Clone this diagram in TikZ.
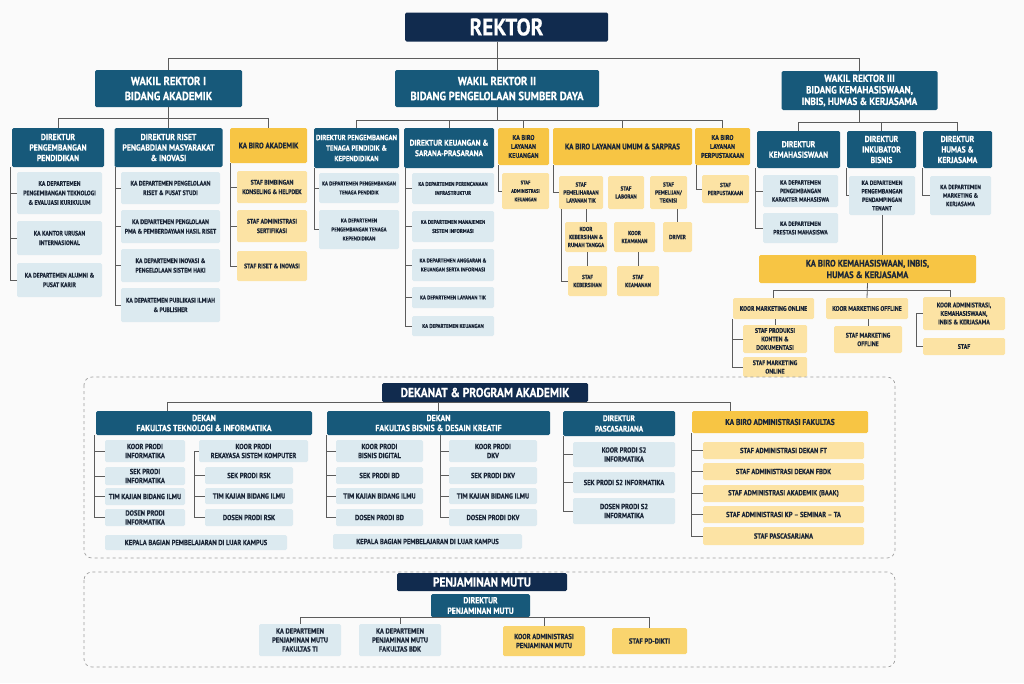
\documentclass[tikz,border=0pt]{standalone}
\usepackage{fontspec}
\setmainfont{PT Sans}[FakeStretch=0.88,BoldFeatures={FakeBold=0.5}]
\usepackage{xcolor}
\definecolor{navyc}{HTML}{112B4E}
\definecolor{dteal}{HTML}{17597A}
\definecolor{lblue}{HTML}{DCEAF0}
\definecolor{gold}{HTML}{F7C544}
\definecolor{cream}{HTML}{FCE3A4}
\definecolor{myel}{HTML}{F9D46E}
\definecolor{ink}{HTML}{1C2738}
\definecolor{linec}{HTML}{5C5C5C}
\definecolor{bgc}{HTML}{FAFAFA}

\begin{document}
\begin{tikzpicture}[x=1pt,y=-1pt,
  box/.style={rectangle,rounded corners=1.5pt,inner sep=0pt,align=center},
  sz/.style 2 args={minimum width=#1,minimum height=#2},
  nv/.style={box,fill=navyc,text=white},
  tl/.style={box,fill=dteal,text=white},
  lb/.style={box,fill=lblue,text=ink},
  gd/.style={box,fill=gold,text=ink},
  cr/.style={box,fill=cream,text=ink},
  my/.style={box,fill=myel,text=ink},
  ln/.style={draw=linec,line width=0.8pt},
  frm/.style={draw=gray!75,dashed,line width=0.7pt,rounded corners=8pt},
  fs/.style={font=\fontsize{#1}{8.5}\selectfont\bfseries},
  fxl/.style={font=\fontsize{24}{26}\selectfont\bfseries},
  fhd/.style={font=\fontsize{13}{14}\selectfont\bfseries},
  fwr/.style={font=\fontsize{12}{15}\selectfont\bfseries},
  fwrs/.style={font=\fontsize{10.4}{11.5}\selectfont\bfseries},
  fdir/.style={font=\fontsize{#1}{10.5}\selectfont\bfseries},
  fbr/.style={font=\fontsize{#1}{9}\selectfont\bfseries},
  fdk/.style={font=\fontsize{9}{10}\selectfont\bfseries},
  fsm/.style={font=\fontsize{6.5}{9.5}\selectfont\bfseries},
  fsb/.style={font=\fontsize{5.6}{9}\selectfont\bfseries},
  fxs/.style={font=\fontsize{5.8}{8}\selectfont\bfseries},
  fki/.style={font=\fontsize{6.6}{8.5}\selectfont\bfseries},
  fdd/.style={font=\fontsize{7.4}{9}\selectfont\bfseries}]

\fill[bgc] (0,0) rectangle (1024,683);
\useasboundingbox (0,0) rectangle (1024,683);

%%%%%%%%%%%%    rektor and wakil rektor   %%%%%%%%%%%%
\node[nv,sz={203}{29},fxl] (rek) at (506.5,27) {REKTOR};
\node[tl,sz={147}{37},fwr] (wr1) at (168.5,88.5) {WAKIL REKTOR I\\BIDANG AKADEMIK};
\node[tl,sz={204}{37},fwr] (wr2) at (497,88.5) {WAKIL REKTOR II\\BIDANG PENGELOLAAN SUMBER DAYA};
\node[tl,sz={156}{39},fwrs] (wr3) at (859.5,90.5) {WAKIL REKTOR III\\BIDANG KEMAHASISWAAN,\\INBIS, HUMAS \& KERJASAMA};

\draw[ln] (wr1.north) |- ([yshift=-16.5pt]rek.south) -| (wr3.north);
\draw[ln] (wr2.north) -- (wr2.north |- rek.south);

%%%%%%%%%%%%    bidang akademik   %%%%%%%%%%%%
\node[tl,sz={92}{39},fdir=8.8] (dirPP) at (58,147.5) {DIREKTUR\\PENGEMBANGAN\\PENDIDIKAN};
\node[tl,sz={108}{39},fdir=8.8] (dirRP) at (168.5,147.5) {DIREKTUR RISET\\PENGABDIAN MASYARAKAT\\\& INOVASI};
\node[gd,sz={77}{35},fbr=8] (kbAk) at (268.5,145.5) {KA BIRO AKADEMIK};

\draw[ln] (dirPP.north) |- ([yshift=-11pt]wr1.south) -| (kbAk.north);
\draw[ln] (wr1.south) -- (dirRP.north);

%left
\node[lb,sz={85}{42},fsm] (ppA) at (59.5,193) {KA DEPARTEMEN\\PENGEMBANGAN TEKNOLOGI\\\& EVALUASI KURIKULUM};
\node[lb,sz={85}{34},fsm] (ppB) at (59.5,238) {KA KANTOR URUSAN\\INTERNASIONAL};
\node[lb,sz={85}{34},fsm] (ppC) at (59.5,280) {KA DEPARTEMEN ALUMNI \&\\PUSAT KARIR};
\draw[ln] ([xshift=-1pt]dirPP.south west) |- (ppA.west) ([xshift=-1pt]dirPP.south west) |- (ppB.west) ([xshift=-1pt]dirPP.south west) |- (ppC.west);

%center
\node[lb,sz={99}{32},fsm] (rpA) at (170.5,188) {KA DEPARTEMEN PENGELOLAAN\\RISET \& PUSAT STUDI};
\node[lb,sz={99}{33},fsm] (rpB) at (170.5,226.5) {KA DEPARTEMEN PENGLOLAAN\\PMA \& PEMBERDAYAAN HASIL RISET};
\node[lb,sz={99}{33},fsm] (rpC) at (170.5,265.5) {KA DEPARTEMEN INOVASI \&\\PENGELOLAAN SISTEM HAKI};
\node[lb,sz={99}{34},fsm] (rpD) at (170.5,305) {KA DEPARTEMEN PUBLIKASI ILMIAH\\\& PUBLISHER};
\draw[ln] ([xshift=1pt]dirRP.south west) |- (rpA.west) ([xshift=1pt]dirRP.south west) |- (rpB.west) ([xshift=1pt]dirRP.south west) |- (rpC.west) ([xshift=1pt]dirRP.south west) |- (rpD.west);

%right
\node[cr,sz={70}{32},fsm] (akA) at (272,187) {STAF BIMBINGAN\\KONSELING \& HELPDEK};
\node[cr,sz={70}{32},fsm] (akB) at (272,226) {STAF ADMINISTRASI\\SERTIFIKASI};
\node[cr,sz={70}{30},fsm] (akC) at (272,266) {STAF RISET \& INOVASI};
\draw[ln] ([xshift=1pt]kbAk.south west) |- (akA.west) ([xshift=1pt]kbAk.south west) |- (akB.west) ([xshift=1pt]kbAk.south west) |- (akC.west);

%%%%%%%%%%%%    sumber daya   %%%%%%%%%%%%
\node[tl,sz={85}{40},fdir=7.6] (dirTK) at (356.5,148) {DIREKTUR PENGEMBANGAN\\TENAGA PENDIDIK \&\\KEPENDIDIKAN};
\node[tl,sz={90}{40},fdir=8.4] (dirKS) at (449,148) {DIREKTUR KEUANGAN \&\\SARANA-PRASARANA};
\node[gd,sz={51}{37},fbr=7] (kbLK) at (523.5,146.5) {KA BIRO\\LAYANAN\\KEUANGAN};
\node[gd,sz={139}{37},fbr=8] (kbLU) at (622.5,146.5) {KA BIRO LAYANAN UMUM \& SARPRAS};
\node[gd,sz={55}{37},fbr=7] (kbLP) at (722.5,146.5) {KA BIRO\\LAYANAN\\PERPUSTAKAAN};

\draw[ln] (dirTK.north) |- ([yshift=-13pt]wr2.south) -| (kbLP.north);
\draw[ln] (wr2.south) -- ++(0,13) (dirKS.north) -- ++(0,-8) (kbLK.north) -- ++(0,-8) (kbLU.north) -- ++(0,-8);

\node[lb,sz={80}{30},fsb] (tkA) at (359,188) {KA DEPARTEMEN PENGEMBANGAN\\TENAGA PENDIDIK};
\node[lb,sz={80}{39},fsb] (tkB) at (359,229.5) {KA DEPARTEMEN\\PENGEMBANGAN TENAGA\\KEPENDIDIKAN};
\draw[ln] ([xshift=1pt]dirTK.south west) |- (tkA.west) ([xshift=1pt]dirTK.south west) |- (tkB.west);

\node[lb,sz={82}{31},fsb] (ksA) at (453,188.5) {KA DEPARTEMEN PERENCANAAN\\INFRASTRUKTUR};
\node[lb,sz={82}{31},fsb] (ksB) at (453,226.5) {KA DEPARTEMEN MANAJEMEN\\SISTEM INFORMASI};
\node[lb,sz={82}{32},fsb] (ksC) at (453,265) {KA DEPARTEMEN ANGGARAN \&\\KEUANGAN SERTA INFORMASI};
\node[lb,sz={82}{21},fsb] (ksD) at (453,297.5) {KA DEPARTEMEN LAYANAN TIK};
\node[lb,sz={82}{20},fsb] (ksE) at (453,326) {KA DEPARTEMEN KEUANGAN};
\draw[ln] ([xshift=2pt]dirKS.south west) |- (ksA.west) ([xshift=2pt]dirKS.south west) |- (ksB.west) ([xshift=2pt]dirKS.south west) |- (ksC.west) ([xshift=2pt]dirKS.south west) |- (ksD.west) ([xshift=2pt]dirKS.south west) |- (ksE.west);

\node[cr,sz={47}{36},fs=5.1] (lkA) at (525.5,191) {STAF\\ADMINISTRASI\\KEUANGAN};
\draw[ln] ([xshift=1pt]kbLK.south west) |- (lkA.west);

% layanan umum
\node[cr,sz={44}{33},fxs] (luA) at (581,192.5) {STAF\\PEMELIHARAAN\\LAYANAN TIK};
\node[cr,sz={36}{33},fxs] (luB) at (626,192.5) {STAF\\LABORAN};
\node[cr,sz={37}{33},fxs] (luC) at (668.5,192.5) {STAF\\PEMELIJAN/\\TEKNISI};
\node[cr,sz={42}{30},fxs] (luD) at (586,237) {KOOR\\KEBERSIHAN \&\\RUMAH TANGGA};
\node[cr,sz={41}{30},fxs] (luE) at (634.5,237) {KOOR\\KEAMANAN};
\node[cr,sz={29}{30},fxs] (luF) at (677.5,237) {DRIVER};
\node[cr,sz={39}{30},fxs] (luG) at (587.5,281) {STAF\\KEBERSIHAN};
\node[cr,sz={42}{30},fxs] (luH) at (638,281) {STAF\\KEAMANAN};
\draw[ln] ([xshift=1pt]kbLU.south west) |- (luA.west);
\draw[ln] (luD.north) -- (luD.north |- luA.south);
\draw[ln] (luG.north) -- (luG.north |- luD.south);
\draw[ln] (luH.north) -- (luH.north |- luE.south);
\draw[ln] (luF.north) -- (luF.north |- luC.south);
\draw[ln] ([xshift=3pt]luA.south west) |- (luG.west);

\node[cr,sz={47}{28},fxs] (lpA) at (725.5,189) {STAF\\PERPUSTAKAAN};
\draw[ln] ([xshift=2pt]kbLP.south west) |- (lpA.west);

%%%%%%%%%%%%    kemahasiswaan   %%%%%%%%%%%%
\node[tl,sz={83}{37},fdir=8.6] (dirKM) at (798.5,149.5) {DIREKTUR\\KEMAHASISWAAN};
\node[tl,sz={69}{37},fdir=8.6] (dirIB) at (881.5,149.5) {DIREKTUR\\INKUBATOR\\BISNIS};
\node[tl,sz={69}{37},fdir=8.6] (dirHK) at (957.5,149.5) {DIREKTUR\\HUMAS \&\\KERJASAMA};

\draw[ln] (dirKM.north) |- ([yshift=-12pt]wr3.south) -| (dirHK.north);
\draw[ln] (wr3.south) -- ++(0,12) (dirIB.north) -- ++(0,-9);

\node[lb,sz={75}{32},fs=6.3] (kmA) at (800.5,191) {KA DEPARTEMEN\\PENGEMBANGAN\\KARAKTER MAHASISWA};
\node[lb,sz={75}{30},fs=6.3] (kmB) at (800.5,228) {KA DEPARTEMEN\\PRESTASI MAHASISWA};
\draw[ln] ([xshift=-1pt]dirKM.south west) |- (kmA.west) ([xshift=-1pt]dirKM.south west) |- (kmB.west);

\node[lb,sz={66}{39},fs=6.3] (ibA) at (882,195.5) {KA DEPARTEMEN\\PENGEMBANGAN\\PENDAMPINGAN\\TENANT};
\draw[ln] (dirIB.south west) |- (ibA.west);
\node[lb,sz={61}{39},fs=6.3] (hkA) at (960.5,195.5) {KA DEPARTEMEN\\MARKETING \&\\KERJASAMA};
\draw[ln] (dirHK.south west) |- (hkA.west);

\node[gd,sz={217}{28},font=\fontsize{9.5}{11.5}\selectfont\bfseries] (kbKI) at (867.5,269) {KA BIRO KEMAHASISWAAN, INBIS,\\HUMAS \& KERJASAMA};
\draw[ln] (ibA.south) -- (ibA.south |- kbKI.north);

\node[cr,sz={81}{21},fki] (kiA) at (773.5,308.5) {KOOR MARKETING ONLINE};
\node[cr,sz={82}{21},fki] (kiB) at (867,308.5) {KOOR MARKETING OFFLINE};
\node[cr,sz={82}{33},fki] (kiC) at (964,313.5) {KOOR ADMINISTRASI,\\KEMAHASISWAAN,\\INBIS \& KERJASAMA};
\draw[ln] (kiA.north) |- ([yshift=-7pt]kbKI.south) -| ([xshift=-14pt]kiC.north);
\draw[ln] (kbKI.south) -- (kiB.north);

\node[cr,sz={64}{28},fki] (kiD) at (775,339) {STAF PRODUKSI\\KONTEN \&\\DOKUMENTASI};
\node[cr,sz={64}{20},fki] (kiE) at (775,367) {STAF MARKETING\\ONLINE};
\node[cr,sz={68}{27},fki] (kiF) at (868,339.5) {STAF MARKETING\\OFFLINE};
\node[cr,sz={82}{17},fki] (kiG) at (964,346.5) {STAF};
\draw[ln] (kiA.south west) |- (kiD.west) (kiA.south west) |- (kiE.west);
\draw[ln] (kiD.north) -- (kiD.north |- kiA.south);
\draw[ln] (kiF.north) -- (kiF.north |- kiB.south);
\draw[ln] (kiC.west) -- ++(-6,0) |- (kiG.west);

%%%%%%%%%%%%    dekanat   %%%%%%%%%%%%
\draw[frm] (84,377) rectangle (895,558);
\node[nv,sz={206}{19},fhd] (dek) at (485,392.5) {DEKANAT \& PROGRAM AKADEMIK};

\node[tl,sz={216}{24},fdk] (fti) at (204,423) {DEKAN\\FAKULTAS TEKNOLOGI \& INFORMATIKA};
\node[tl,sz={223}{24},fdk] (fbd) at (438.5,423) {DEKAN\\FAKULTAS BISNIS \& DESAIN KREATIF};
\node[tl,sz={112}{25},fdir=8.2] (psc) at (619,423.5) {DIREKTUR\\PASCASARJANA};
\node[gd,sz={176}{22},fbr=8.4] (kbAF) at (780,422) {KA BIRO ADMINISTRASI FAKULTAS};

\draw[ln] ([xshift=-37pt]fti.north) |- (dek.south) -| ([xshift=-50pt]kbAF.north);
\draw[ln] (fbd.north) -- (fbd.north |- dek.south);

% teknologi
\node[lb,sz={80}{22},fdd] (tiA) at (145,451) {KOOR PRODI\\INFORMATIKA};
\node[lb,sz={80}{18},fdd] (tiB) at (145,476) {SEK PRODI\\INFORMATIKA};
\node[lb,sz={80}{17},fdd] (tiC) at (145,496.5) {TIM KAJIAN BIDANG ILMU};
\node[lb,sz={80}{17},fdd] (tiD) at (145,517.5) {DOSEN PRODI\\INFORMATIKA};
\draw[ln] ([xshift=-1pt]fti.south west) |- (tiA.west) ([xshift=-1pt]fti.south west) |- (tiB.west) ([xshift=-1pt]fti.south west) |- (tiC.west) ([xshift=-1pt]fti.south west) |- (tiD.west);

\node[lb,sz={109}{22},fdd] (rsA) at (253.5,451) {KOOR PRODI\\REKAYASA SISTEM KOMPUTER};
\node[lb,sz={88}{17},fdd] (rsB) at (249,475.5) {SEK PRODI RSK};
\node[lb,sz={88}{16},fdd] (rsC) at (249,496) {TIM KAJIAN BIDANG ILMU};
\node[lb,sz={88}{17},fdd] (rsD) at (249,517.5) {DOSEN PRODI RSK};
\draw[ln] (rsA.west) -- ++(-4,0) |- (rsB.west) (rsA.west) ++(-4,0) |- (rsC.west) (rsA.west) ++(-4,0) |- (rsD.west);

\node[lb,sz={182}{15},fdd] (lkTI) at (196,542.5) {KEPALA BAGIAN PEMBELAJARAN DI LUAR KAMPUS};

% bisnis
\node[lb,sz={87}{22},fdd] (bdA) at (379.5,451) {KOOR PRODI\\BISNIS DIGITAL};
\node[lb,sz={87}{17},fdd] (bdB) at (379.5,475.5) {SEK PRODI BD};
\node[lb,sz={87}{16},fdd] (bdC) at (379.5,496) {TIM KAJIAN BIDANG ILMU};
\node[lb,sz={87}{17},fdd] (bdD) at (379.5,517.5) {DOSEN PRODI BD};
\draw[ln] (fbd.south west) |- (bdA.west) (fbd.south west) |- (bdB.west) (fbd.south west) |- (bdC.west) (fbd.south west) |- (bdD.west);

\node[lb,sz={88}{22},fdd] (dvA) at (493,451) {KOOR PRODI\\DKV};
\node[lb,sz={88}{17},fdd] (dvB) at (493,475.5) {SEK PRODI DKV};
\node[lb,sz={88}{16},fdd] (dvC) at (493,496) {TIM KAJIAN BIDANG ILMU};
\node[lb,sz={88}{17},fdd] (dvD) at (493,517.5) {DOSEN PRODI DKV};
\draw[ln] ([xshift=2pt]fbd.south) |- (dvA.west) ([xshift=2pt]fbd.south) |- (dvB.west) ([xshift=2pt]fbd.south) |- (dvC.west) ([xshift=2pt]fbd.south) |- (dvD.west);

\node[lb,sz={189}{15},fdd] (lkBD) at (427.5,541.5) {KEPALA BAGIAN PEMBELAJARAN DI LUAR KAMPUS};

% pascasarjana
\node[lb,sz={102}{25},fdd] (psA) at (624,454.5) {KOOR PRODI S2\\INFORMATIKA};
\node[lb,sz={102}{21},fdd] (psB) at (624,482.5) {SEK PRODI S2 INFORMATIKA};
\node[lb,sz={102}{26},fdd] (psC) at (624,511) {DOSEN PRODI S2\\INFORMATIKA};
\draw[ln] ([xshift=1pt]psc.south west) |- (psA.west) ([xshift=1pt]psc.south west) |- (psB.west) ([xshift=1pt]psc.south west) |- (psC.west);

% biro administrasi fakultas
\node[cr,sz={161}{17},fdd] (afA) at (783.5,450.5) {STAF ADMINISTRASI DEKAN FT};
\node[cr,sz={161}{17},fdd] (afB) at (783.5,471.5) {STAF ADMINISTRASI DEKAN FBDK};
\node[cr,sz={161}{17},fdd] (afC) at (783.5,493.5) {STAF ADMINISTRASI AKADEMIK (BAAK)};
\node[cr,sz={161}{17},fdd] (afD) at (783.5,514.5) {STAF ADMINISTRASI KP – SEMINAR – TA};
\node[cr,sz={161}{18},fdd] (afE) at (783.5,536) {STAF PASCASARJANA};
\draw[ln] (kbAF.south west) |- (afA.west) (kbAF.south west) |- (afB.west) (kbAF.south west) |- (afC.west) (kbAF.south west) |- (afD.west) (kbAF.south west) |- (afE.west);

%%%%%%%%%%%%    penjaminan mutu   %%%%%%%%%%%%
\draw[frm] (84,572) rectangle (895,667);
\node[nv,sz={170}{18},fhd] (pm) at (482,582) {PENJAMINAN MUTU};
\node[tl,sz={99}{23},fdir=8.8] (dpm) at (480.5,605.5) {DIREKTUR\\PENJAMINAN MUTU};

\node[lb,sz={82}{32},fdd] (pmA) at (300,640) {KA DEPARTEMEN\\PENJAMINAN MUTU\\FAKULTAS TI};
\node[lb,sz={82}{32},fdd] (pmB) at (400,640) {KA DEPARTEMEN\\PENJAMINAN MUTU\\FAKULTAS BDK};
\node[my,sz={82}{30},fdd] (pmC) at (544,641) {KOOR ADMINISTRASI\\PENJAMINAN MUTU};
\node[my,sz={75}{26},fdd] (pmD) at (649.5,641) {STAF PD-DIKTI};

\draw[ln] (pmA.north) |- (dpm.south) -| (pmD.north);
\draw[ln] (pmB.north) -- (pmB.north |- dpm.south) (pmC.north) -- (pmC.north |- dpm.south);

\end{tikzpicture}
\end{document}
